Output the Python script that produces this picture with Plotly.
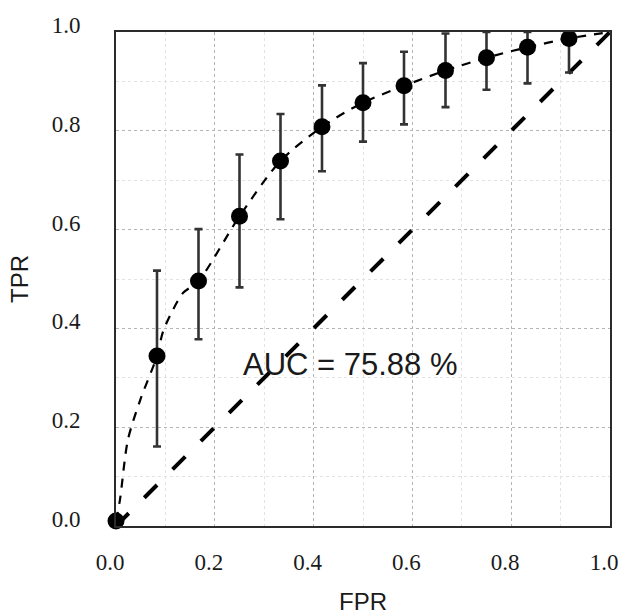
import plotly.graph_objects as go

# ---- data ----
fpr = [0.0, 0.083, 0.167, 0.25, 0.333, 0.417, 0.5, 0.583, 0.667, 0.75, 0.833, 0.917]
tpr = [0.01, 0.344, 0.496, 0.627, 0.739, 0.808, 0.857, 0.891, 0.922, 0.948, 0.969, 0.987]
tpr_upper = [0.01, 0.517, 0.601, 0.752, 0.834, 0.892, 0.937, 0.960, 0.997, 1.0, 1.0, 1.0]
tpr_lower = [0.01, 0.161, 0.378, 0.483, 0.621, 0.718, 0.778, 0.813, 0.848, 0.883, 0.896, 0.918]

# smoothed ROC curve (dashed)
curve_fpr = [0.0, 0.008, 0.024, 0.049, 0.083, 0.095, 0.115, 0.136, 0.167, 0.25, 0.333,
             0.417, 0.5, 0.583, 0.667, 0.75, 0.833, 0.917, 1.0]
curve_tpr = [0.01, 0.053, 0.174, 0.255, 0.344, 0.393, 0.437, 0.472, 0.496, 0.627, 0.739,
             0.808, 0.857, 0.891, 0.922, 0.948, 0.969, 0.987, 1.0]

chance_fpr = [0.0, 1.0]
chance_tpr = [0.0, 1.0]

tick_vals = [0.0, 0.2, 0.4, 0.6, 0.8, 1.0]
tick_text = ["0.0", "0.2", "0.4", "0.6", "0.8", "1.0"]

auc_text = "AUC = 75.88 %"

err_plus = [u - t for u, t in zip(tpr_upper, tpr)]
err_minus = [t - l for t, l in zip(tpr, tpr_lower)]

TXT = "#1a1a1a"

fig = go.Figure()

fig.add_trace(go.Scatter(
    x=chance_fpr, y=chance_tpr, mode="lines",
    line=dict(color="black", width=4, dash="18px,22px"),
    hoverinfo="skip", showlegend=False,
))

fig.add_trace(go.Scatter(
    x=curve_fpr, y=curve_tpr, mode="lines",
    line=dict(color="black", width=2.2, dash="9px,8px", shape="spline", smoothing=0.8),
    hoverinfo="skip", showlegend=False,
))

fig.add_trace(go.Scatter(
    x=fpr, y=tpr, mode="markers",
    marker=dict(color="black", size=17),
    error_y=dict(type="data", symmetric=False, array=err_plus, arrayminus=err_minus,
                 color="#333333", thickness=2.6, width=4),
    cliponaxis=False, showlegend=False,
))

fig.add_annotation(
    x=0.254, y=0.327, xref="x", yref="y", text=auc_text, showarrow=False,
    xanchor="left", yanchor="middle",
    font=dict(family="Liberation Sans, Arial, sans-serif", size=31, color=TXT),
)

axis_common = dict(
    range=[0, 1], tickvals=tick_vals, ticktext=tick_text, automargin=False,
    showline=True, linecolor="#2b2b2b", linewidth=2, mirror=True,
    showgrid=True, gridcolor="#b5b5b5", griddash="dot", gridwidth=1,
    minor=dict(dtick=0.1, showgrid=True, gridcolor="#e2e2e2", gridwidth=1),
    ticks="", zeroline=False, ticklabeloverflow="allow",
    tickfont=dict(family="Liberation Serif, Times New Roman, serif", size=23, color=TXT),
)

fig.update_layout(
    width=620, height=615,
    margin=dict(l=116, r=10, t=32, b=89),
    paper_bgcolor="white", plot_bgcolor="white",
    xaxis=dict(**axis_common, ticklabelstandoff=14, ticklabelshift=-6,
               title=dict(text="FPR", standoff=26,
                          font=dict(family="Liberation Sans, Arial, sans-serif", size=24, color=TXT))),
    yaxis=dict(**axis_common, ticklabelstandoff=29, ticklabelshift=-7,
               title=dict(text="TPR", standoff=16,
                          font=dict(family="Liberation Sans, Arial, sans-serif", size=24, color=TXT))),
)

# remove the default page margin so the figure sits at the window's top-left corner
fig.write_html("out.html", config={"displayModeBar": False},
               post_script="document.body.style.margin='0';")
